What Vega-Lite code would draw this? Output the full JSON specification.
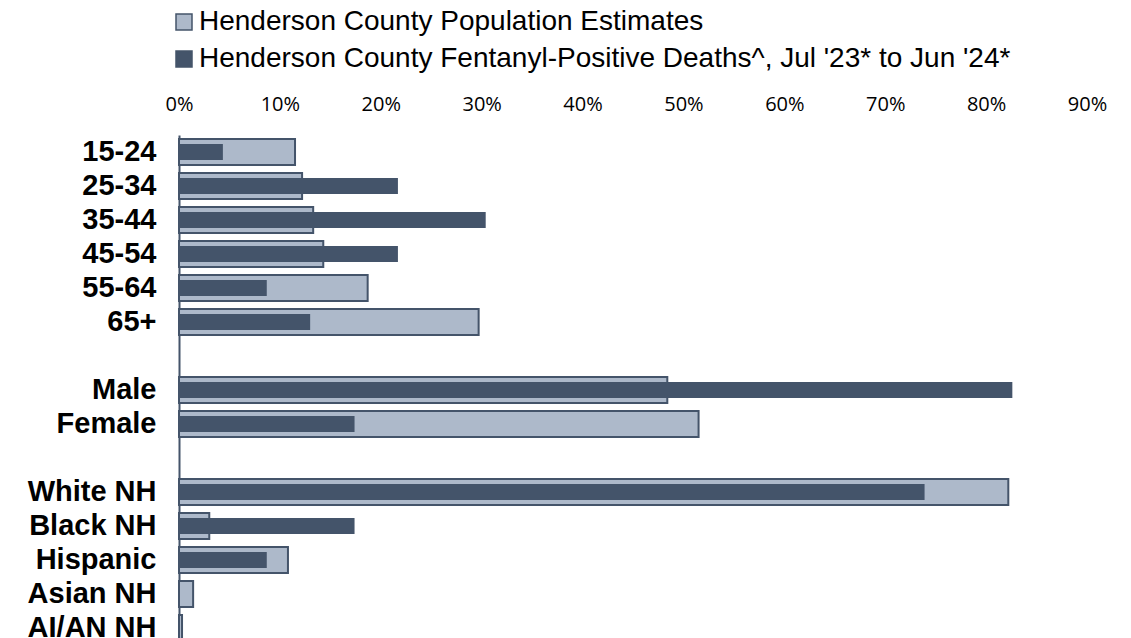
{
  "$schema": "https://vega.github.io/schema/vega-lite/v6.json",
  "autosize": {"type": "none"},
  "padding": {"left": 179, "top": 135, "right": 44, "bottom": 0},
  "width": 908,
  "height": 510,
  "background": "white",
  "config": {"view": {"stroke": null}},
  "data": {
    "values": [
      {"group": "15-24", "series": "Henderson County Population Estimates", "value": 0.115},
      {"group": "25-34", "series": "Henderson County Population Estimates", "value": 0.122},
      {"group": "35-44", "series": "Henderson County Population Estimates", "value": 0.133},
      {"group": "45-54", "series": "Henderson County Population Estimates", "value": 0.143},
      {"group": "55-64", "series": "Henderson County Population Estimates", "value": 0.187},
      {"group": "65+", "series": "Henderson County Population Estimates", "value": 0.297},
      {"group": "Male", "series": "Henderson County Population Estimates", "value": 0.484},
      {"group": "Female", "series": "Henderson County Population Estimates", "value": 0.515},
      {"group": "White NH", "series": "Henderson County Population Estimates", "value": 0.822},
      {"group": "Black NH", "series": "Henderson County Population Estimates", "value": 0.030},
      {"group": "Hispanic", "series": "Henderson County Population Estimates", "value": 0.108},
      {"group": "Asian NH", "series": "Henderson County Population Estimates", "value": 0.014},
      {"group": "AI/AN NH", "series": "Henderson County Population Estimates", "value": 0.003},
      {"group": "15-24", "series": "Henderson County Fentanyl-Positive Deaths^, Jul '23* to Jun '24*", "value": 0.0435},
      {"group": "25-34", "series": "Henderson County Fentanyl-Positive Deaths^, Jul '23* to Jun '24*", "value": 0.217},
      {"group": "35-44", "series": "Henderson County Fentanyl-Positive Deaths^, Jul '23* to Jun '24*", "value": 0.304},
      {"group": "45-54", "series": "Henderson County Fentanyl-Positive Deaths^, Jul '23* to Jun '24*", "value": 0.217},
      {"group": "55-64", "series": "Henderson County Fentanyl-Positive Deaths^, Jul '23* to Jun '24*", "value": 0.087},
      {"group": "65+", "series": "Henderson County Fentanyl-Positive Deaths^, Jul '23* to Jun '24*", "value": 0.130},
      {"group": "Male", "series": "Henderson County Fentanyl-Positive Deaths^, Jul '23* to Jun '24*", "value": 0.826},
      {"group": "Female", "series": "Henderson County Fentanyl-Positive Deaths^, Jul '23* to Jun '24*", "value": 0.174},
      {"group": "White NH", "series": "Henderson County Fentanyl-Positive Deaths^, Jul '23* to Jun '24*", "value": 0.739},
      {"group": "Black NH", "series": "Henderson County Fentanyl-Positive Deaths^, Jul '23* to Jun '24*", "value": 0.174},
      {"group": "Hispanic", "series": "Henderson County Fentanyl-Positive Deaths^, Jul '23* to Jun '24*", "value": 0.087},
      {"group": "Asian NH", "series": "Henderson County Fentanyl-Positive Deaths^, Jul '23* to Jun '24*", "value": 0},
      {"group": "AI/AN NH", "series": "Henderson County Fentanyl-Positive Deaths^, Jul '23* to Jun '24*", "value": 0}
    ]
  },
  "encoding": {
    "y": {
      "field": "group",
      "type": "nominal",
      "title": null,
      "scale": {
        "domain": ["15-24", "25-34", "35-44", "45-54", "55-64", "65+", " ", "Male", "Female", "  ", "White NH", "Black NH", "Hispanic", "Asian NH", "AI/AN NH"],
        "paddingInner": 0,
        "paddingOuter": 0
      },
      "axis": {
        "ticks": false,
        "labelPadding": 23,
        "labelFont": "Liberation Sans",
        "labelFontWeight": "bold",
        "labelFontSize": 29,
        "labelColor": "#000000",
        "domainColor": "#44546a",
        "domainWidth": 2,
        "grid": false
      }
    },
    "x": {
      "field": "value",
      "type": "quantitative",
      "title": null,
      "scale": {"domain": [0, 0.9], "nice": false},
      "axis": {
        "orient": "top",
        "values": [0, 0.1, 0.2, 0.3, 0.4, 0.5, 0.6, 0.7, 0.8, 0.9],
        "format": ".0%",
        "domain": false,
        "ticks": false,
        "grid": false,
        "labelFont": "Open Sans",
        "labelFontSize": 20,
        "labelColor": "#000000",
        "labelPadding": 21,
        "labelFlush": false
      }
    },
    "fill": {
      "field": "series",
      "type": "nominal",
      "scale": {
        "domain": ["Henderson County Population Estimates", "Henderson County Fentanyl-Positive Deaths^, Jul '23* to Jun '24*"],
        "range": ["#adb9ca", "#44546a"]
      },
      "legend": {
        "title": null,
        "orient": "none",
        "legendX": -9,
        "legendY": -127,
        "direction": "vertical",
        "symbolType": "square",
        "symbolSize": 256,
        "symbolStrokeColor": "#44546a",
        "symbolStrokeWidth": 1.5,
        "labelFont": "Liberation Sans",
        "labelFontSize": 28,
        "labelColor": "#000000",
        "labelLimit": 1000,
        "labelOffset": 1,
        "rowPadding": 9,
        "padding": 0
      }
    }
  },
  "layer": [
    {
      "transform": [{"filter": "datum.series === 'Henderson County Population Estimates'"}],
      "mark": {"type": "bar", "size": 26, "stroke": "#44546a", "strokeWidth": 2}
    },
    {
      "transform": [{"filter": "datum.series !== 'Henderson County Population Estimates'"}],
      "mark": {"type": "bar", "size": 16}
    }
  ]
}
